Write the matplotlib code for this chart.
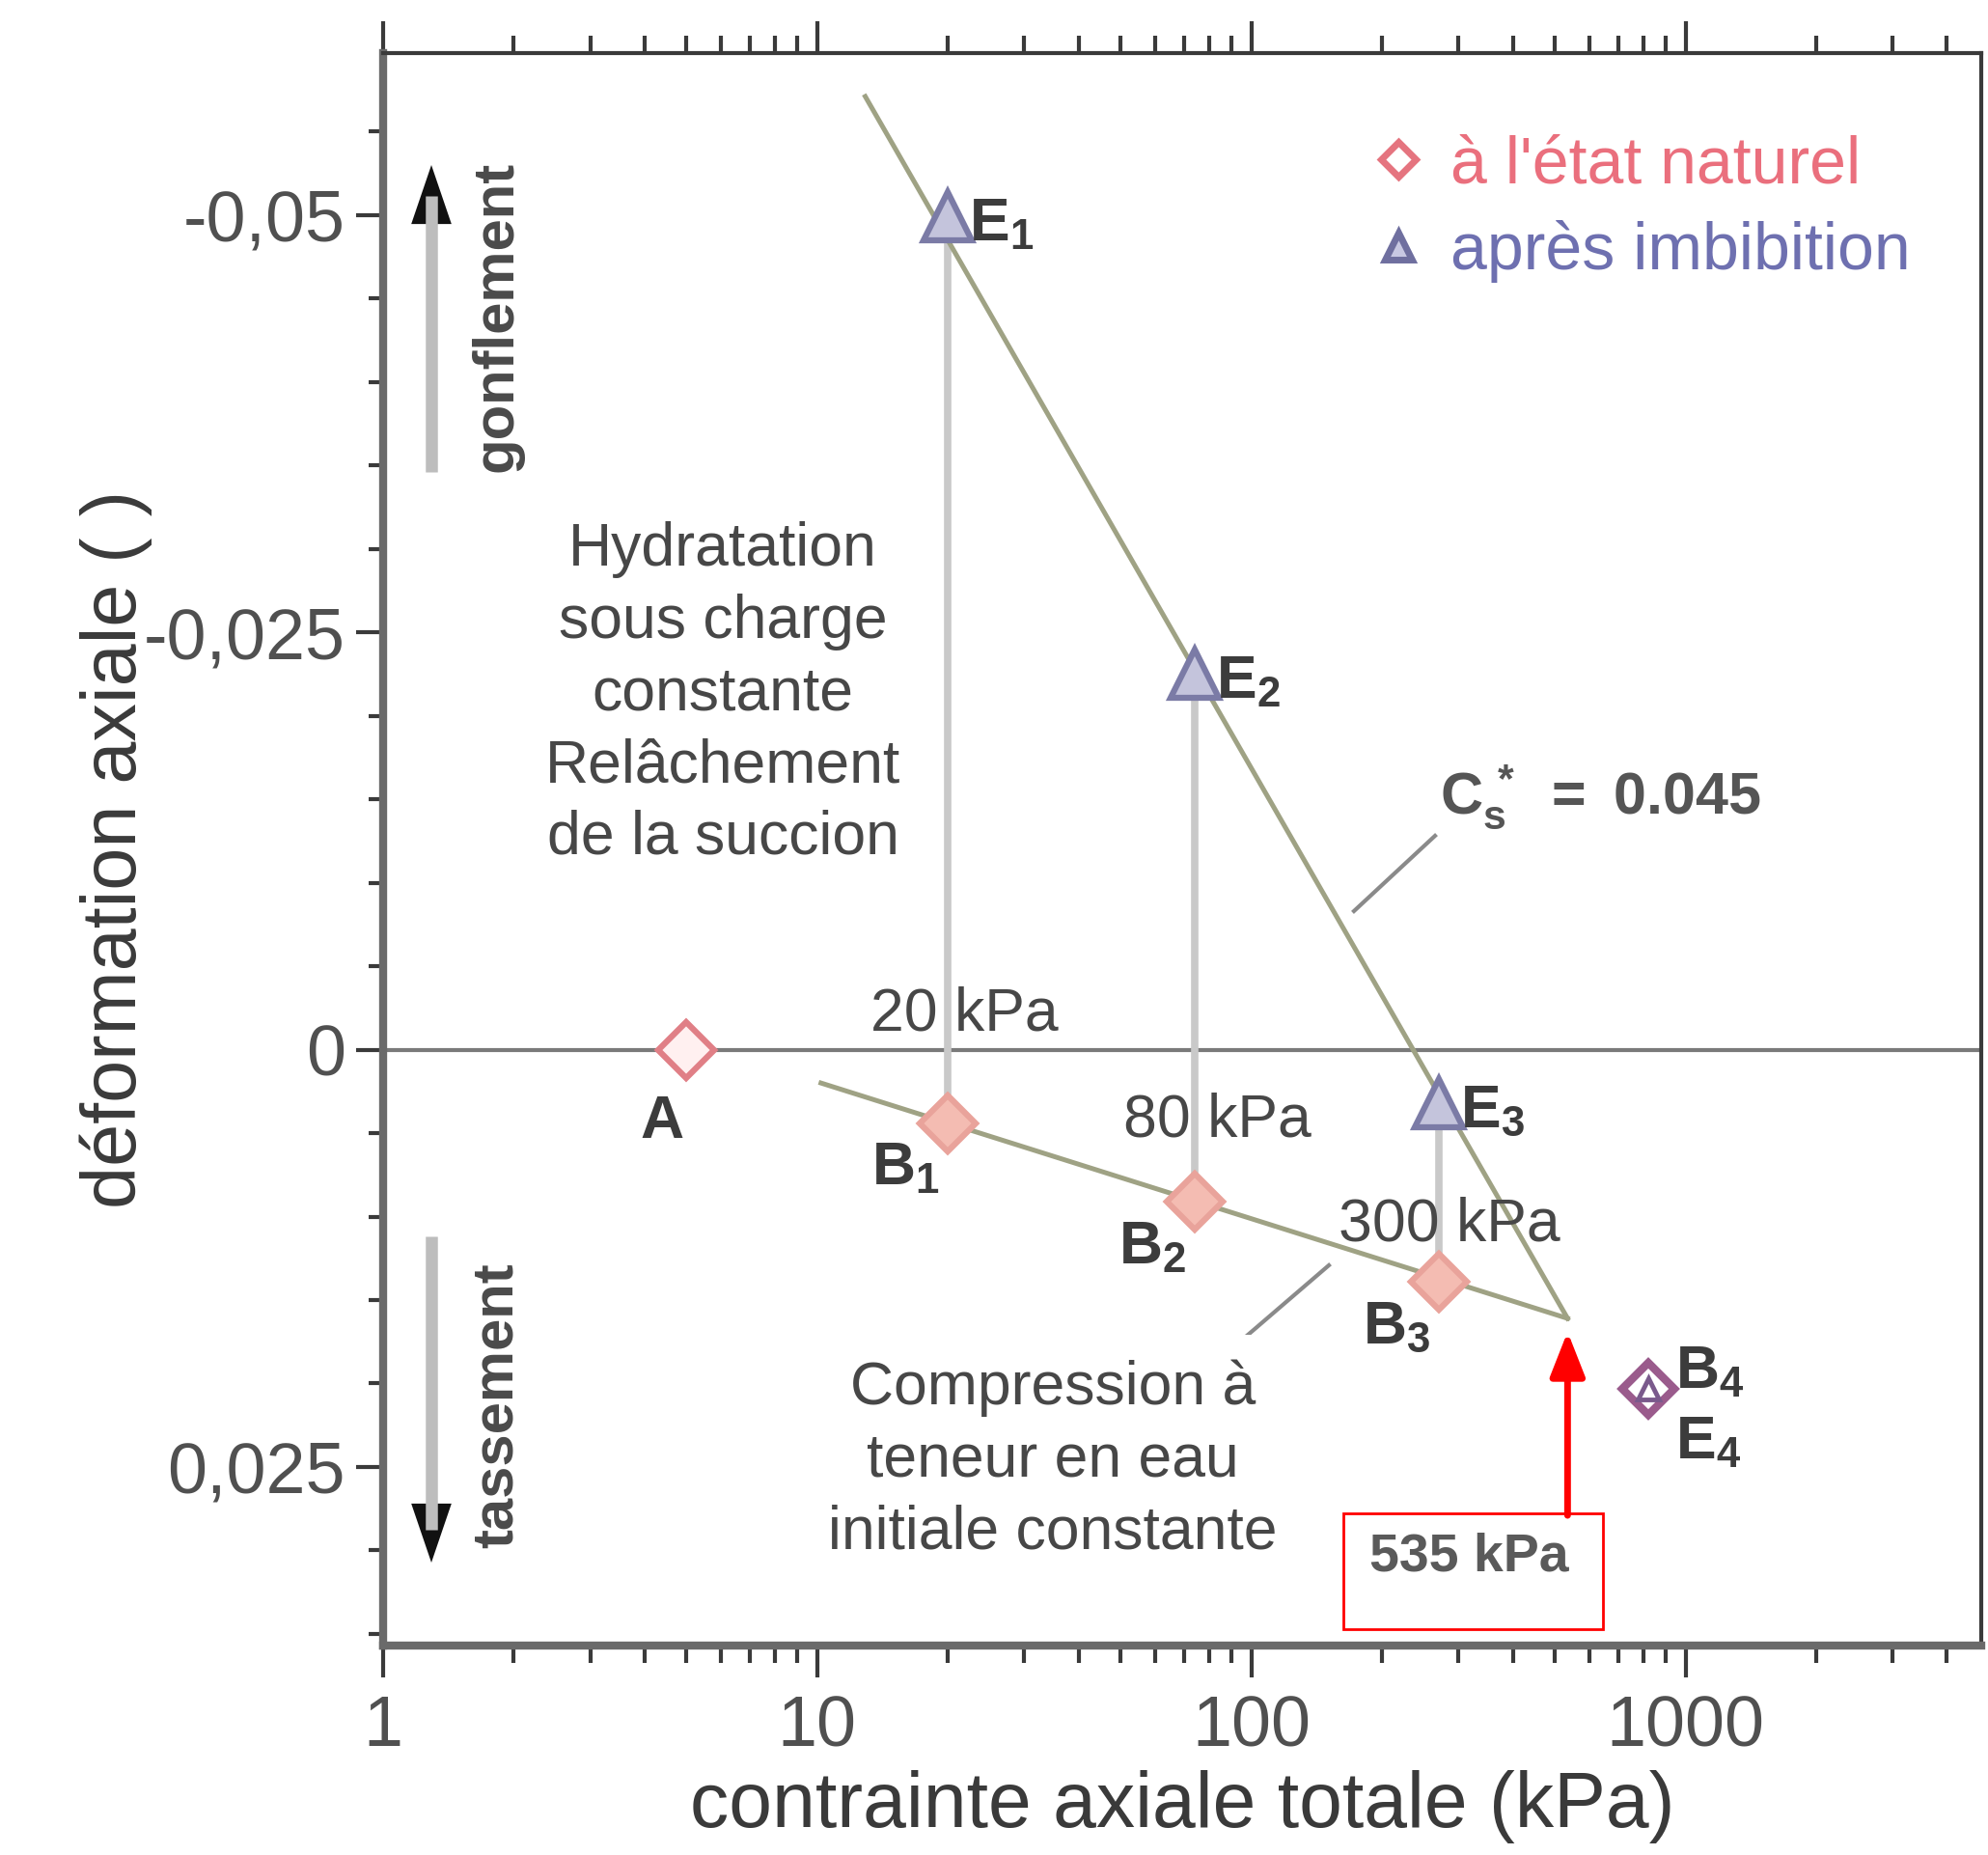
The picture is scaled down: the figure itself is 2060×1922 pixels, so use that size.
import matplotlib
matplotlib.use('Agg')
import matplotlib.pyplot as plt
from matplotlib.lines import Line2D
from matplotlib.patches import Rectangle
from matplotlib.ticker import FixedLocator, FixedFormatter, NullFormatter

# ---------------- data ----------------
A_x = [5.0]
A_y = [0.0]
B_names = ['B', 'B', 'B']
B_subs = ['1', '2', '3']
B_x = [20, 74, 270]
B_y = [0.0044, 0.0091, 0.0139]
E_names = ['E', 'E', 'E']
E_subs = ['1', '2', '3']
E_x = [20, 74, 270]
E_y = [-0.0499, -0.0225, 0.0032]
B4_x = [820]
B4_y = [0.0203]
swell_x = [12.9, 535]
swell_y = [-0.0571, 0.0161]
comp_x = [10.2, 535]
comp_y = [0.0020, 0.0161]
yticks = [-0.05, -0.025, 0.0, 0.025]
ytick_labels = ['-0,05', '-0,025', '0', '0,025']
xticks = [1, 10, 100, 1000]
xtick_labels = ['1', '10', '100', '1000']
stress_labels = ['20 kPa', '80 kPa', '300 kPa']
limit_stress = 535
legend_labels = ["à l'état naturel", 'après imbibition']

W, H = 2060, 1922
NARROW = ['Liberation Sans Narrow', 'Liberation Sans', 'DejaVu Sans']
ARIAL = ['Liberation Sans', 'DejaVu Sans']

def fx(x):
    return x / W

def fy(y):
    return 1 - y / H

fig = plt.figure(figsize=(W / 100, H / 100), dpi=100)
fig.patch.set_facecolor('white')
ax = fig.add_axes([fx(397), fy(1705), fx(2053) - fx(397), fy(55) - fy(1705)])
ax.set_facecolor('white')
ax.set_xscale('log')
ax.set_xlim(1, 4800)
ax.set_ylim(0.0357, -0.0597)

# spines
for s in ['left', 'bottom']:
    ax.spines[s].set_linewidth(6)
    ax.spines[s].set_color('#6a6a6a')
for s in ['top', 'right']:
    ax.spines[s].set_linewidth(3)
    ax.spines[s].set_color('#3a3a3a')

# ticks
ax.xaxis.set_major_locator(FixedLocator(xticks))
ax.xaxis.set_major_formatter(FixedFormatter(xtick_labels))
minors = [m * d for d in [1, 10, 100, 1000] for m in range(2, 10)]
ax.xaxis.set_minor_locator(FixedLocator(minors))
ax.xaxis.set_minor_formatter(NullFormatter())
ax.yaxis.set_major_locator(FixedLocator(yticks))
ax.yaxis.set_major_formatter(FixedFormatter(ytick_labels))
ax.yaxis.set_minor_locator(FixedLocator([v / 1000 for v in range(-55, 36, 5)]))
ax.tick_params(axis='x', which='both', direction='out', top=True, bottom=True,
               color='#3a3a3a', width=3)
ax.tick_params(axis='x', which='major', length=24, pad=12, labelsize=53,
               labelcolor='#505050')
ax.tick_params(axis='x', which='minor', length=13)
ax.tick_params(axis='y', which='both', direction='out', left=True, right=False,
               color='#3a3a3a', width=3)
ax.tick_params(axis='y', which='major', length=20, pad=8, labelsize=53,
               labelcolor='#505050')
ax.tick_params(axis='y', which='minor', length=11)
for lab in ax.get_xticklabels() + ax.get_yticklabels():
    lab.set_family(NARROW)

ax.set_xlabel('contrainte axiale totale (kPa)', fontsize=58, family=NARROW,
              color='#3a3a3a')
ax.set_ylabel('déformation axiale ( )', fontsize=57, family=NARROW,
              color='#3a3a3a')
ax.xaxis.set_label_coords(0.5, -0.078)
ax.yaxis.set_label_coords(-0.1443, 0.5)

# zero line
ax.axhline(0, color='#7a7a7a', lw=3, zorder=1)

# vertical hydration paths
for x, y0, y1 in zip(E_x, E_y, B_y):
    ax.plot([x, x], [y0, y1], color='#c9c9c9', lw=5.5, zorder=2,
            solid_capstyle='butt')

# swelling and compression lines
ax.plot(swell_x, swell_y, color='#9fa284', lw=3.6, zorder=3)
ax.plot(comp_x, comp_y, color='#9fa284', lw=3.6, zorder=3)

# markers
ax.plot(A_x, A_y, ls='none', marker='D', ms=30, mfc='#fff0f0', mec='#e07f86',
        mew=4.5, zorder=5)
ax.plot(B_x, B_y, ls='none', marker='D', ms=30, mfc='#f4bcb2', mec='#e9a39b',
        mew=4.5, zorder=5)
ax.plot(E_x, E_y, ls='none', marker='^', ms=36, mfc='#c4c4dc', mec='#7b7ba6',
        mew=4.5, zorder=5)
ax.plot(B4_x, B4_y, ls='none', marker='D', ms=28, mfc='white', mec='#9a5b8c',
        mew=6, zorder=5)
ax.plot(B4_x, B4_y, ls='none', marker='^', ms=16, mfc='white', mec='#7a5a8c',
        mew=3.5, zorder=6)

# point labels
lab_kw = dict(textcoords='offset points', fontsize=45, family=NARROW,
              fontweight='bold', color='#3c3c3c', zorder=7)
for x, y, n, s in zip(E_x, E_y, E_names, E_subs):
    ax.annotate(r'$\mathregular{%s_{%s}}$' % (n, s), (x, y), xytext=(16, -6),
                ha='left', va='center', **lab_kw)
for x, y, n, s in zip(B_x, B_y, B_names, B_subs):
    ax.annotate(r'$\mathregular{%s_{%s}}$' % (n, s), (x, y), xytext=(-6, -34),
                ha='right', va='center', **lab_kw)
ax.annotate('A', (A_x[0], A_y[0]), xytext=(-18, -54), ha='center', va='center',
            **lab_kw)
ax.annotate(r'$\mathregular{B_4}$', (B4_x[0], B4_y[0]), xytext=(20, 12),
            ha='left', va='center', **lab_kw)
ax.annotate(r'$\mathregular{E_4}$', (B4_x[0], B4_y[0]), xytext=(20, -40),
            ha='left', va='center', **lab_kw)

# Cs* label with leader
fig.add_artist(Line2D([fx(1403), fx(1487)], [fy(944), fy(866)], color='#8a8a8a',
                      lw=3))
fig.text(fx(1492), fy(826), r'$\mathregular{C_s^{\,*}\;=\;0.045}$', fontsize=44,
         family=NARROW, fontweight='bold', color='#555555', ha='left',
         va='center')
# leader of the compression label (hidden under the white box)
fig.add_artist(Line2D([fx(1377), fx(1292)], [fy(1311), fy(1384)],
                      color='#8a8a8a', lw=3))
fig.add_artist(Rectangle((fx(830), fy(1640)), fx(1340) - fx(830),
                         fy(1383) - fy(1640), facecolor='white',
                         edgecolor='none', transform=fig.transFigure,
                         zorder=10))

# swelling / settlement arrows
for (xa, y_tail, y_head, word, ytxt) in [(447, 489, 171, 'gonflement', 328),
                                         (447, 1281, 1619, 'tassement', 1456)]:
    fig.add_artist(Line2D([fx(xa), fx(xa)], [fy(y_tail), fy((y_head + y_tail) / 2 + (y_head - y_tail) * 0.4)],
                          color='#bdbdbd', lw=9, solid_capstyle='butt'))
    ax.annotate('', xy=(fx(xa), fy(y_head)), xycoords='figure fraction',
                xytext=(fx(xa), fy(y_head + (62 if y_head < y_tail else -62))),
                textcoords='figure fraction',
                arrowprops=dict(arrowstyle='-|>,head_length=2.2,head_width=0.75',
                                color='#111111', lw=0, shrinkA=0, shrinkB=0,
                                mutation_scale=20))
    fig.text(fx(515), fy(ytxt), word, rotation=90, fontsize=43, family=NARROW,
             fontweight='bold', color='#4a4a4a', ha='center', va='center')

# legend
handles = [Line2D([], [], ls='none', marker='D', ms=18, mfc='white',
                  mec='#e5747f', mew=5),
           Line2D([], [], ls='none', marker='^', ms=20, mfc='#c8c8e2',
                  mec='#6f6f9f', mew=5)]
leg = ax.legend(handles, legend_labels, loc='upper left',
                bbox_to_anchor=(0.598, 1 - 50 / 1650),
                frameon=False, handlelength=0.8,
                handletextpad=0.4, labelspacing=0.37, borderpad=0,
                prop={'family': NARROW, 'size': 49})
for t, c in zip(leg.get_texts(), ['#ea6f7d', '#6e70b0']):
    t.set_color(c)

# overlay annotations (Arial-like)
ov = dict(fontsize=45, family=ARIAL, color='#474747', ha='center', va='center',
          linespacing=1.34, zorder=12)
fig.text(fx(749), fy(719), 'Hydratation\nsous charge\nconstante\nRelâchement\nde la succion', **ov)
for txt, (px, py) in zip(stress_labels, [(999, 1051), (1261, 1161), (1502, 1269)]):
    fig.text(fx(px), fy(py), txt, **ov)
fig.text(fx(1091), fy(1513), 'Compression à\nteneur en eau\ninitiale constante', **ov)

# 535 kPa marker
ax.annotate('', xy=(limit_stress, 0.0169), xytext=(limit_stress, 0.0279),
            arrowprops=dict(arrowstyle='-|>,head_length=1.4,head_width=0.55',
                            color='#ff0000', lw=5, shrinkA=0, shrinkB=0,
                            mutation_scale=20), zorder=12)
fig.add_artist(Rectangle((fx(1392), fy(1688)), fx(1661) - fx(1392),
                         fy(1568) - fy(1688), facecolor='none',
                         edgecolor='#ff0000', lw=2, transform=fig.transFigure,
                         zorder=12))
fig.text(fx(1522), fy(1614), '%d kPa' % limit_stress, fontsize=40, family=NARROW,
         fontweight='bold', color='#5a5a5a', ha='center', va='center', zorder=13)

fig.savefig('out.png', dpi=100, facecolor='white')
